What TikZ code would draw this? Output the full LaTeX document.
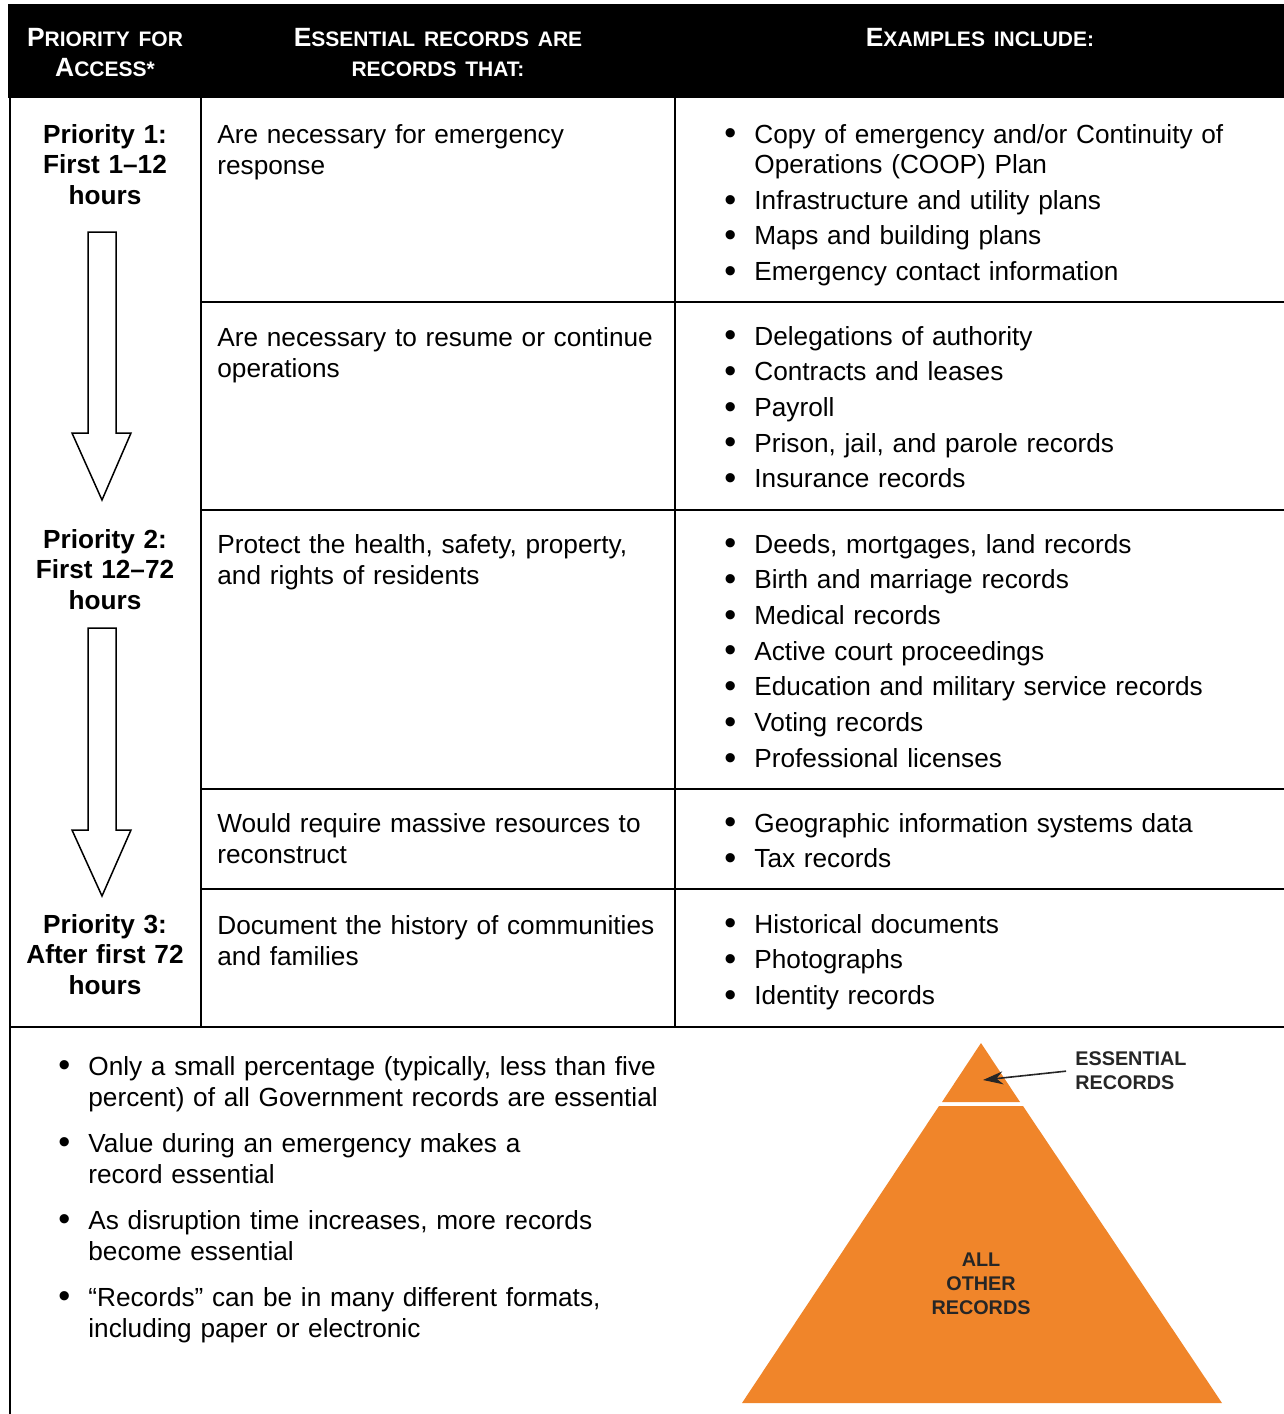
\documentclass[tikz,border=0pt]{standalone}
\usepackage{fontspec}
\setmainfont{Liberation Sans}
\usetikzlibrary{arrows.meta, positioning}

\definecolor{pyrorange}{HTML}{F0852A}
\definecolor{lblgray}{HTML}{262626}

\newlength{\bulgap}
\newcommand{\bul}[1]{\hangindent=15pt\hangafter=1\noindent\makebox[15pt][l]{\raisebox{-0.07em}{\scalebox{1.3}{\textbullet}}}#1\setlength{\parskip}{\bulgap}\par}
\newcommand{\hdsc}[2]{{\fontsize{13.2pt}{15pt}\selectfont #1}{\fontsize{10.5pt}{15pt}\selectfont #2}}

\begin{document}
\begin{tikzpicture}[x=0.5pt, y=-0.5pt,
    grid/.style={line width=1pt},
    hdtext/.style={text=white, font=\bfseries\fontsize{13.2pt}{15pt}\selectfont, text width=200pt, align=center, anchor=base, inner sep=0},
    prio/.style={font=\bfseries\fontsize{13.1pt}{15.25pt}\selectfont, text width=95pt, align=center, anchor=base, inner sep=0},
    need/.style={font=\fontsize{13.1pt}{15.5pt}\selectfont, text width=235pt, align=left, anchor=base west, inner sep=0},
    examples/.style={font=\fontsize{13.1pt}{15.25pt}\selectfont\setlength{\bulgap}{2.6pt}, text width=280pt, align=left, anchor=base west, inner sep=0},
    notes/.style={font=\fontsize{13.1pt}{15.5pt}\selectfont\setlength{\bulgap}{7.5pt}, text width=320pt, align=left, anchor=base west, inner sep=0},
    pyrlbl/.style={font=\bfseries\fontsize{9.9pt}{12pt}\selectfont, text=lblgray, inner sep=0},
    blockarrow/.style={draw=black, line width=0.75pt, fill=white, line join=miter}]

    \useasboundingbox (0,0) rectangle (1284,1414);

    % header
    \fill[black] (8,4) rectangle (1284,98);
    \node (hprio) at (105,46) [hdtext] {\hdsc{P}{RIORITY FOR}\\\hdsc{A}{CCESS*}};
    \node (hneed) at (438,46) [hdtext] {\hdsc{E}{SSENTIAL RECORDS ARE}\\{\fontsize{10.5pt}{15pt}\selectfont RECORDS THAT:}};
    \node (hexam) at (980,46) [hdtext] {\hdsc{E}{XAMPLES INCLUDE:}};

    % grid
    \draw[grid] (10,98) -- (10,1414);
    \draw[grid] (201,98) -- (201,1027);
    \draw[grid] (675,98) -- (675,1027);
    \draw[grid] (201,302) -- (1284,302);
    \draw[grid] (201,510) -- (1284,510);
    \draw[grid] (201,789) -- (1284,789);
    \draw[grid] (201,889) -- (1284,889);
    \draw[grid] (10,1027) -- (1284,1027);

    % priorities
    \node (p1) at (105,143) [prio] {Priority 1:\\First 1--12\\hours};
    \node (p2) at (105,548) [prio] {Priority 2:\\First 12--72\\hours};
    \node (p3) at (105,933) [prio] {Priority 3:\\After first 72\\hours};

    \draw[blockarrow] (88,232) -- (116,232) -- (116,433) -- (131,433) -- (102,500)
        -- (72,433) -- (88,433) -- cycle;
    \draw[blockarrow] (88,628) -- (116,628) -- (116,830) -- (131,830) -- (102,896)
        -- (72,830) -- (88,830) -- cycle;

    % essential records are records that
    \node (n1) at (217,143) [need] {Are necessary for emergency\\response};
    \node (n2) at (217,346) [need] {Are necessary to resume or continue\\operations};
    \node (n3) at (217,553) [need] {Protect the health, safety, property,\\and rights of residents};
    \node (n4) at (217,832) [need] {Would require massive resources to\\reconstruct};
    \node (n5) at (217,934) [need] {Document the history of communities\\and families};

    % examples
    \node (e1) at (724,143) [examples] {\bul{Copy of emergency and/or Continuity of\newline Operations (COOP) Plan}
        \bul{Infrastructure and utility plans}
        \bul{Maps and building plans}
        \bul{Emergency contact information}};
    \node (e2) at (724,345) [examples] {\bul{Delegations of authority}
        \bul{Contracts and leases}
        \bul{Payroll}
        \bul{Prison, jail, and parole records}
        \bul{Insurance records}};
    \node (e3) at (724,553) [examples] {\bul{Deeds, mortgages, land records}
        \bul{Birth and marriage records}
        \bul{Medical records}
        \bul{Active court proceedings}
        \bul{Education and military service records}
        \bul{Voting records}
        \bul{Professional licenses}};
    \node (e4) at (724,832) [examples] {\bul{Geographic information systems data}
        \bul{Tax records}};
    \node (e5) at (724,933) [examples] {\bul{Historical documents}
        \bul{Photographs}
        \bul{Identity records}};

    % notes
    \node (notes) at (58,1075) [notes] {\bul{Only a small percentage (typically, less than five\newline percent) of all Government records are essential}
        \bul{Value during an emergency makes a\newline record essential}
        \bul{As disruption time increases, more records\newline become essential}
        \bul{“Records” can be in many different formats,\newline including paper or electronic}};

    % pyramid
    \fill[pyrorange] (981,1043) -- (1020,1102) -- (942,1102) -- cycle;
    \fill[pyrorange] (939,1106) -- (1023,1106) -- (1222,1403) -- (742,1403) -- cycle;
    \node (esslbl) at (1075,1089) [pyrlbl, anchor=base west, align=left] {ESSENTIAL\\RECORDS};
    \node (allother) at (981,1314) [pyrlbl, anchor=base, align=center] {ALL\\OTHER\\RECORDS};
    \coordinate (esstip) at (983,1080);
    \draw[-{Stealth[length=10pt, width=6.5pt]}, line width=0.8pt, draw=lblgray, shorten <=4.5pt]
        (esslbl.west) -- (esstip);

\end{tikzpicture}
\end{document}
